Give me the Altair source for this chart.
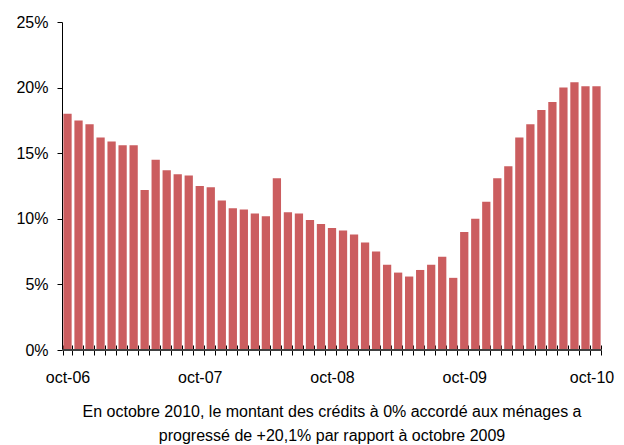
import altair as alt
import pandas as pd

month_names = ["oct", "nov", "déc", "janv", "févr", "mars", "avr", "mai", "juin", "juil", "août", "sept"]
start_year = 6
labels = []
for i in range(49):
    m = month_names[i % 12]
    y = start_year + (i + 9) // 12
    labels.append(f"{m}-{y:02d}")

values = [
    18.0, 17.5, 17.2, 16.2, 15.9, 15.6, 15.6, 12.2, 14.5, 13.7, 13.4, 13.3,
    12.5, 12.4, 11.4, 10.8, 10.7, 10.4, 10.2, 13.1, 10.5, 10.4, 9.9, 9.6,
    9.3, 9.1, 8.8, 8.2, 7.5, 6.5, 5.9, 5.6, 6.1, 6.5, 7.1, 5.5,
    9.0, 10.0, 11.3, 13.1, 14.0, 16.2, 17.2, 18.3, 18.9, 20.0, 20.4, 20.1,
    20.1,
]

caption = [
    "En octobre 2010, le montant des crédits à 0% accordé aux ménages a",
    "progressé de +20,1% par rapport à octobre 2009",
]

df = pd.DataFrame({"mois": labels, "taux": [v / 100 for v in values]})

FONT = "Liberation Sans"
W, H = 540, 328
yscale = alt.Scale(domain=[0, 0.25], nice=False, zero=True)

bars = alt.Chart(df).mark_bar(color="#CB5D5F").encode(
    x=alt.X(
        "mois:N",
        sort=labels,
        scale=alt.Scale(paddingInner=0.25, paddingOuter=0.125),
        axis=alt.Axis(
            title=None,
            labelAngle=0,
            labelExpr="slice(datum.label, 0, 3) == 'oct' ? datum.label : ''",
            labelOffset={"condition": {"test": "datum.value == 'oct-10'", "value": -5}, "value": 0},
            labelFont=FONT,
            labelFontSize=16,
            labelColor="#000000",
            labelPadding=14,
            tickBand="extent",
            tickSize=10,
            tickColor="#000000",
            offset=-5,
            domain=False,
        ),
    ),
    y=alt.Y(
        "taux:Q",
        scale=yscale,
        axis=alt.Axis(
            title=None,
            format=".0%",
            values=[0, 0.05, 0.10, 0.15, 0.20, 0.25],
            grid=False,
            labelFont=FONT,
            labelFontSize=16,
            labelColor="#000000",
            labelPadding=9,
            tickSize=5,
            tickColor="#000000",
            domainColor="#000000",
        ),
    ),
)

base_line = alt.Chart(df).mark_rule(color="#404040", strokeWidth=2).encode(
    y=alt.YDatum(0, scale=yscale),
    x=alt.value(0),
    x2=alt.value(W),
)

chart = alt.layer(bars, base_line).properties(
    width=W,
    height=H,
    autosize=alt.AutoSizeParams(type="none"),
    padding={"left": 54, "top": 14, "right": 14, "bottom": 95},
    title=alt.TitleParams(
        text=caption,
        orient="bottom",
        anchor="middle",
        font=FONT,
        fontSize=16,
        fontWeight="normal",
        color="#000000",
        lineHeight=24,
        offset=19,
    ),
).configure_view(stroke=None)

chart.save("out.html", embed_options={"renderer": "svg", "actions": False})
